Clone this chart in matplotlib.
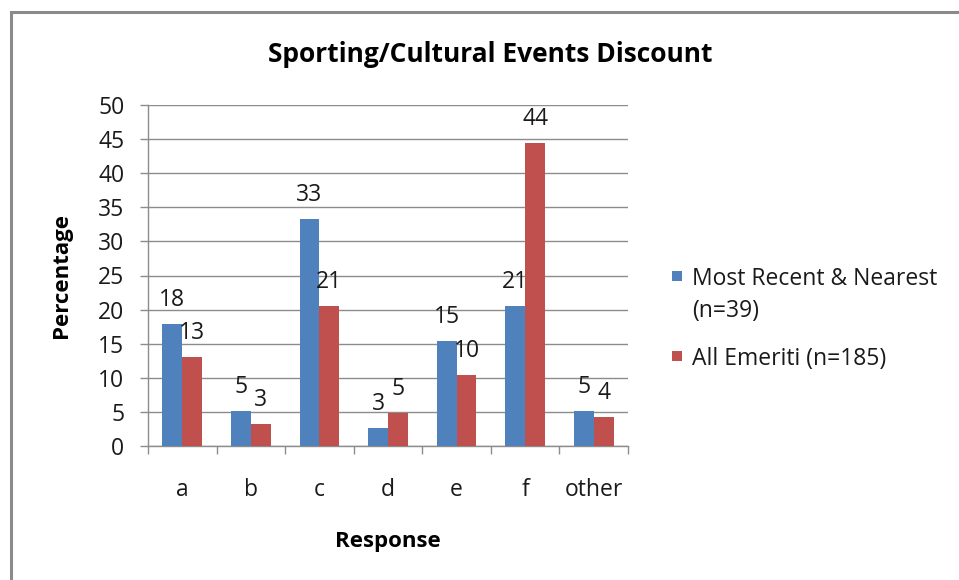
import matplotlib
matplotlib.use("Agg")
import matplotlib.pyplot as plt
from matplotlib.patches import Rectangle
import numpy as np

categories = ["a", "b", "c", "d", "e", "f", "other"]
recent_nearest = [17.9, 5.1, 33.3, 2.6, 15.4, 20.5, 5.1]
all_emeriti = [13.0, 3.2, 20.5, 4.9, 10.4, 44.4, 4.3]
recent_labels = ["18", "5", "33", "3", "15", "21", "5"]
emeriti_labels = ["13", "3", "21", "5", "10", "44", "4"]
series_names = ["Most Recent & Nearest\n(n=39)", "All Emeriti (n=185)"]
y_ticks = [0, 5, 10, 15, 20, 25, 30, 35, 40, 45, 50]

BLUE = "#4F81BD"
RED = "#C0504D"
GRID = "#8C8C8C"
FONT = "Open Sans"
FS = 16.5
W, H = 959, 580

plt.rcParams['font.family'] = [FONT, 'DejaVu Sans']

fig = plt.figure(figsize=(W / 100, H / 100), dpi=100)
fig.patch.set_facecolor("white")

def fx(px):
    return px / W

def fy(py):
    return 1 - py / H

# outer border
fig.patches.append(Rectangle((fx(11), fy(595)), fx(980) - fx(11), fy(12) - fy(595),
                             transform=fig.transFigure, fill=False, edgecolor="#8A8A8A",
                             linewidth=2.2, clip_on=False))

left, right, top, bottom = 148, 628, 105, 446
ax = fig.add_axes([fx(left), fy(bottom), fx(right) - fx(left), fy(top) - fy(bottom)])

x = np.arange(len(categories))
bw = 0.29
b1 = ax.bar(x - bw / 2, recent_nearest, bw, color=BLUE, zorder=3)
b2 = ax.bar(x + bw / 2, all_emeriti, bw, color=RED, zorder=3)

for rect, lab in zip(b1, recent_labels):
    ax.annotate(lab, (rect.get_x() + rect.get_width() / 2, rect.get_height()),
                xytext=(0, 13), textcoords="offset points", ha="center", va="baseline",
                fontsize=FS, color="#1a1a1a", zorder=5)
for rect, lab in zip(b2, emeriti_labels):
    ax.annotate(lab, (rect.get_x() + rect.get_width() / 2, rect.get_height()),
                xytext=(0, 13), textcoords="offset points", ha="center", va="baseline",
                fontsize=FS, color="#1a1a1a", zorder=5)

ax.set_xlim(-0.5, len(categories) - 0.5)
ax.set_ylim(0, 50)
ax.set_yticks(y_ticks)
ax.set_yticklabels([str(t) for t in y_ticks])
ax.yaxis.grid(True, color=GRID, linewidth=1.0, zorder=0)
ax.set_axisbelow(True)

ax.set_xticks(x)
ax.set_xticklabels(categories)
ax.set_xticks(np.arange(-0.5, len(categories), 1.0), minor=True)
ax.tick_params(axis="x", which="major", length=0, pad=23, labelsize=FS, labelcolor="#1a1a1a")
ax.tick_params(axis="x", which="minor", length=6, width=1, color=GRID, direction="out")
ax.tick_params(axis="y", which="major", length=6, width=1, color=GRID, pad=11,
               labelsize=FS, labelcolor="#1a1a1a", direction="out")

for s in ["top", "right"]:
    ax.spines[s].set_visible(False)
for s in ["left", "bottom"]:
    ax.spines[s].set_color(GRID)
    ax.spines[s].set_linewidth(1.0)

fig.text(fx(490), fy(55), "Sporting/Cultural Events Discount", ha="center", va="center",
         fontsize=19, fontweight="bold", color="black")
fig.text(fx(62), fy(275), "Percentage", ha="center", va="center", rotation=90,
         fontsize=16, fontweight="bold", color="black")
fig.text(fx(388), fy(542), "Response", ha="center", va="center",
         fontsize=16, fontweight="bold", color="black")

# legend
leg_items = [(BLUE, series_names[0], 276), (RED, series_names[1], 356)]
for col, name, ly in leg_items:
    fig.patches.append(Rectangle((fx(672), fy(ly + 5)), fx(10), 10 / H,
                                 transform=fig.transFigure, facecolor=col, edgecolor="none"))
    fig.text(fx(692), fy(ly - 9), name, ha="left", va="top", fontsize=FS,
             color="#1a1a1a", linespacing=1.42)

fig.savefig("out.png", dpi=100)
